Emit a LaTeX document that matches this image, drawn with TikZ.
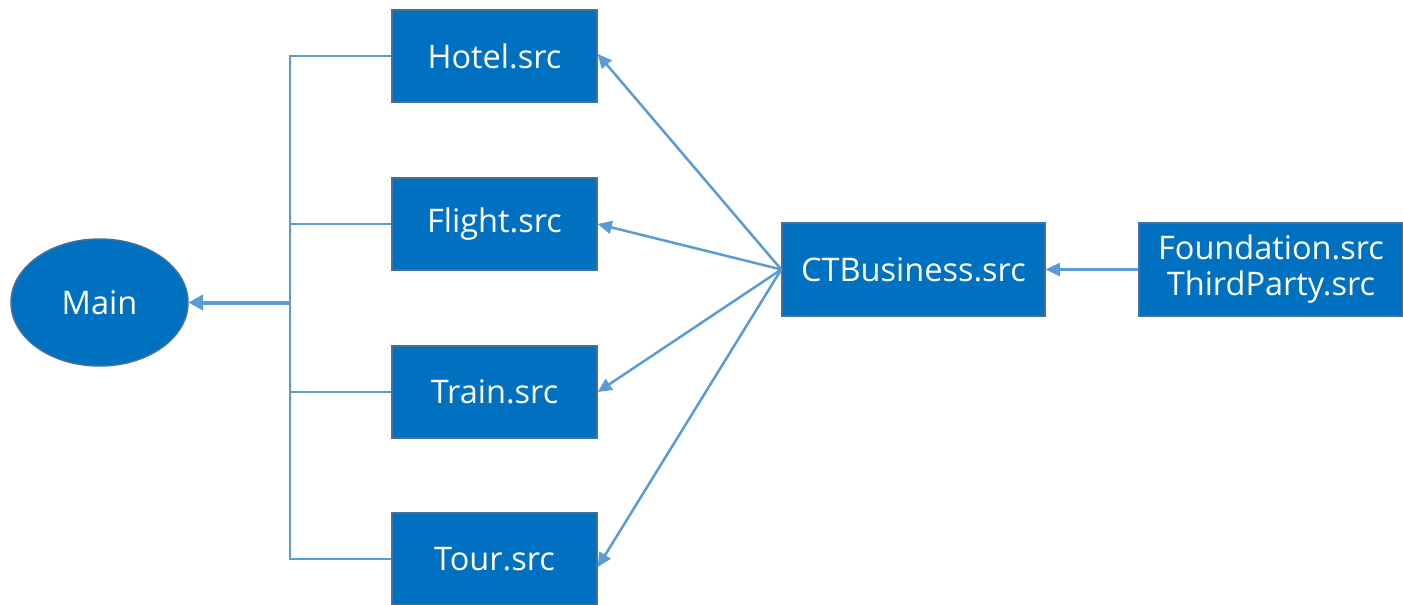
\documentclass[tikz,border=0pt]{standalone}
\usepackage{fontspec}
\setmainfont{Open Sans}
\usetikzlibrary{arrows.meta,shapes.geometric}
\definecolor{boxfill}{HTML}{0070C0}
\definecolor{boxline}{HTML}{41719C}
\definecolor{conn}{HTML}{5B9BD5}
\tikzset{
  srcbox/.style={draw=boxline, line width=1.5pt, fill=boxfill, text=white, minimum width=205pt, minimum height=92pt, inner sep=0pt, font=\fontsize{32.5}{36}\selectfont, align=center},
  mainel/.style={ellipse, draw=boxline, line width=1.5pt, fill=boxfill, text=white, minimum width=177pt, minimum height=127pt, inner sep=0pt, font=\fontsize{32.5}{36}\selectfont},
  conline/.style={draw=conn, line width=2.5pt},
  conarrow/.style={conline, -{Triangle[length=14pt,width=13pt]}},
  mainarrow/.style={draw=conn, line width=4pt, line cap=butt, -{Triangle[length=14pt,width=16pt,line width=0pt]}},
}
\begin{document}
\begin{tikzpicture}[x=1pt,y=-1pt]
\useasboundingbox (0,0) rectangle (1403,605);
\node[mainel] (main) at (99.5,302.5) {Main};
\node[srcbox] (hotel) at (494.5,56) {Hotel.src};
\node[srcbox] (flight) at (494.5,224) {Flight.src};
\node[srcbox] (train) at (494.5,392) {Train.src};
\node[srcbox] (tour) at (494.5,559) {Tour.src};
\node[srcbox, minimum width=263pt, minimum height=93pt] (ct) at (913.5,269.5) {CTBusiness.src};
\node[srcbox, minimum width=264pt, minimum height=93pt] (found) at (1271,269.5) {Foundation.src\\ThirdParty.src};
\coordinate (bustop) at (290,56);
\coordinate (busbot) at (290,559);
\coordinate (busmid) at (290,302.5);
\draw[conline] (hotel.west) -- (bustop) -- (busbot) -- (tour.west);
\draw[conline] (flight.west) -- (290,224);
\draw[conline] (train.west) -- (290,392);
\draw[mainarrow] (busmid) -- (main.east);
\draw[conarrow] (ct.west) -- ([yshift=2pt]hotel.east);
\draw[conarrow] (ct.west) -- (flight.east);
\draw[conarrow] (ct.west) -- (train.east);
\draw[conarrow] (ct.west) -- ([yshift=-8pt]tour.east);
\draw[conarrow] (found.west) -- (ct.east);
\end{tikzpicture}
\end{document}
